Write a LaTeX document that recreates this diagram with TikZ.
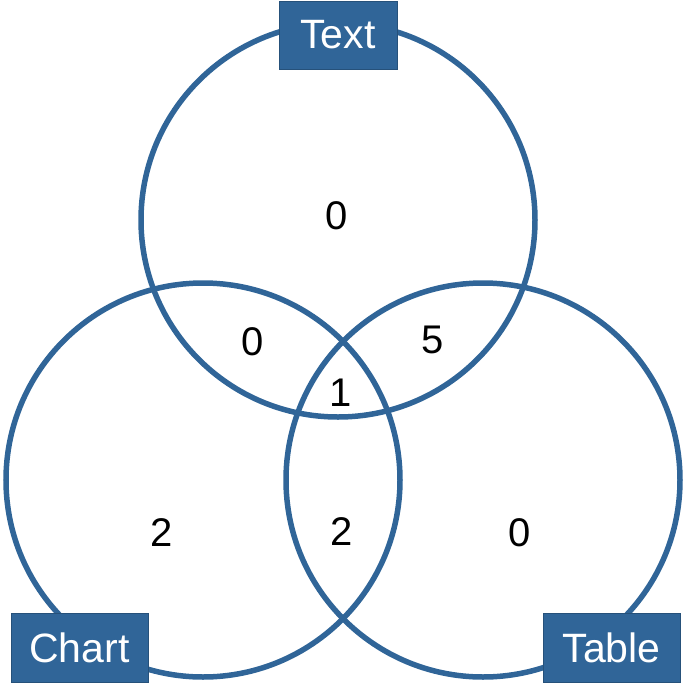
\documentclass[tikz,border=0pt]{standalone}
\usepackage{fontspec}
\setmainfont{Liberation Sans}
\definecolor{vblue}{RGB}{48,101,152}
\begin{document}
\begin{tikzpicture}[x=1pt,y=-1pt,
  ring/.style={draw=vblue,line width=5.5pt},
  setlabel/.style={draw=vblue!80!black,line width=0.6pt,fill=vblue,text=white,font=\fontsize{41}{43}\selectfont,minimum width=118pt,minimum height=68pt,inner sep=0pt},
  count/.style={font=\fontsize{40}{42}\selectfont,inner sep=0pt,anchor=center}]
\useasboundingbox (0,0) rectangle (685,686);
\draw[ring] (338,220) circle (197);
\draw[ring] (203,480) circle (197);
\draw[ring] (483,480) circle (197);
\node[setlabel] (text) at (338,35) {Text};
\node[setlabel,minimum width=137pt,minimum height=69pt] (chart) at (79.5,647.5) {Chart};
\node[setlabel,minimum width=137pt,minimum height=69pt] (table) at (611.5,647.5) {Table};
\node[count] (t) at (337,216) {0};
\node[count] (tc) at (253,342) {0};
\node[count] (tt) at (433,340) {5};
\node[count] (all) at (341,393) {1};
\node[count] (c) at (162,533) {2};
\node[count] (ct) at (342,532) {2};
\node[count] (tb) at (520,533) {0};
\end{tikzpicture}
\end{document}
